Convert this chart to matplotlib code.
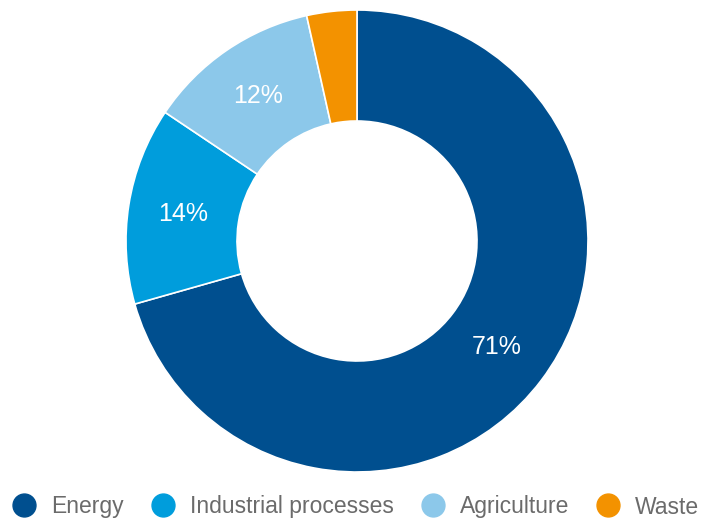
import matplotlib.pyplot as plt
from matplotlib.lines import Line2D

plt.rcParams["font.family"] = ["Liberation Sans", "DejaVu Sans"]

sectors = ["Energy", "Industrial processes", "Agriculture", "Waste"]
shares = [70.6, 13.8, 12.1, 3.5]
colors = ["#004f8f", "#009ddc", "#8cc8ea", "#f39200"]


def main():
    fig = plt.figure(figsize=(7.02, 5.22), dpi=100)
    ax = fig.add_axes([0, 0, 1, 1])

    wedges, texts, autotexts = ax.pie(
        shares,
        colors=colors,
        startangle=90,
        counterclock=False,
        center=(357, 281),
        radius=231,
        autopct=lambda p: f"{p:.0f}%" if p > 5 else "",
        pctdistance=0.76,
        wedgeprops=dict(width=111, edgecolor="white", linewidth=1.2),
        textprops=dict(color="white", fontsize=18),
    )
    ax.set_xlim(0, 702)
    ax.set_ylim(0, 522)
    ax.set_aspect("equal")
    ax.set_axis_off()

    handles = [
        Line2D([], [], marker="o", linestyle="none", markersize=16.5,
               markerfacecolor=c, markeredgecolor=c)
        for c in colors
    ]
    ax.legend(
        handles,
        sectors,
        ncol=4,
        loc="center",
        bbox_to_anchor=(356 / 702, 15 / 522),
        frameon=False,
        fontsize=16.5,
        labelcolor="#6b6b6b",
        handletextpad=0.68,
        columnspacing=1.2,
        handlelength=1.0,
    )

    fig.savefig("out.png", dpi=100)


if __name__ == "__main__":
    main()
